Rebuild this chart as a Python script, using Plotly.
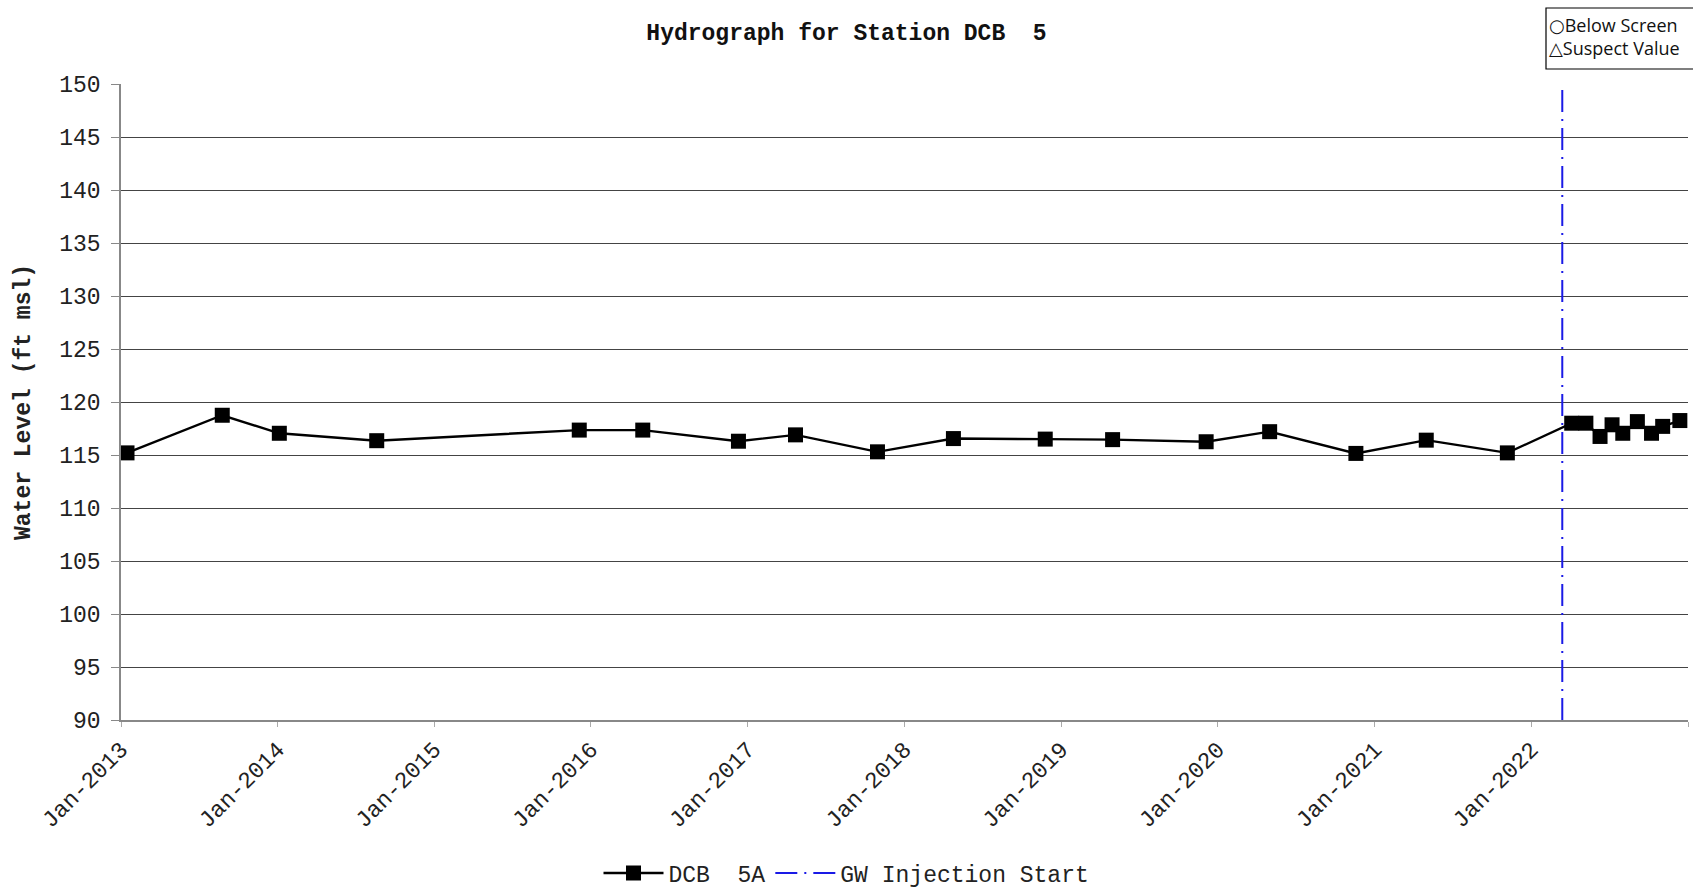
import plotly.graph_objects as go

# ---- data ----
dates = [
    "2013-01-15", "2013-08-25", "2014-01-05", "2014-08-20", "2015-12-05",
    "2016-05-01", "2016-12-10", "2017-04-22", "2017-10-30", "2018-04-25",
    "2018-11-25", "2019-05-01", "2019-12-05", "2020-05-01", "2020-11-18",
    "2021-05-01", "2021-11-06", "2022-04-05", "2022-05-08", "2022-06-10",
    "2022-07-08", "2022-08-02", "2022-09-05", "2022-10-08", "2022-11-03",
    "2022-12-13",
]
levels = [
    115.2, 118.75, 117.05, 116.35, 117.35,
    117.35, 116.3, 116.9, 115.3, 116.55,
    116.5, 116.45, 116.25, 117.2, 115.15,
    116.4, 115.2, 118.0, 118.0, 116.75,
    117.85, 117.05, 118.15, 117.05, 117.7,
    118.25,
]
series_name = "DCB  5A"
injection_name = "GW Injection Start"
injection_date = "2022-03-14"
y_range = [90, 150]
x_range = ["2013-01-01", "2023-01-01"]
title_text = "Hydrograph for Station DCB  5"
y_title = "Water Level (ft msl)"
box_symbols = ["\u25CB", "\u25B3"]
box_labels = ["Below Screen", "Suspect Value"]

MONO = "Liberation Mono, Courier New, monospace"
SANS = "Open Sans, Liberation Sans, Arial, sans-serif"

fig = go.Figure()
fig.add_trace(go.Scatter(
    x=dates, y=levels, mode="lines+markers", name=series_name,
    line=dict(color="black", width=2.4),
    marker=dict(symbol="square", size=15, color="black"),
))
fig.add_trace(go.Scatter(
    x=[injection_date, injection_date], y=y_range, mode="lines",
    name=injection_name,
    line=dict(color="#1a1ae6", width=2, dash="22px,7px,2px,7px"),
))

W, H = 1693, 891
L, R, T, B = 121, 5, 84, 171
pw = W - L - R
ph = H - T - B

def px_x(p):
    return (p - L) / pw

def px_y(p):
    return 1 + (T - p) / ph

box_text = "<br>".join(
    "<span style='font-family:DejaVu Sans'>" + s + "</span>" + lab
    for s, lab in zip(box_symbols, box_labels)
)

annots = [
    dict(text="<b>" + y_title + "</b>", xref="paper", yref="paper",
         x=px_x(24), y=0.5, xanchor="center", yanchor="middle",
         textangle=-90, showarrow=False,
         font=dict(family=MONO, size=23, color="#222")),
    dict(text=box_text, xref="paper", yref="paper",
         x=px_x(1548), y=px_y(36), xanchor="left", yanchor="middle",
         align="left", showarrow=False, borderpad=0,
         font=dict(family=SANS, size=18, color="#111")),
]

fig.update_layout(
    width=W, height=H,
    margin=dict(l=L, r=R, t=T, b=B),
    paper_bgcolor="white", plot_bgcolor="white",
    font=dict(family=MONO, size=23, color="#222"),
    title=dict(text="<b>" + title_text + "</b>", x=0.5, xref="container",
               xanchor="center", y=1 - 32 / H, yref="container",
               yanchor="middle", font=dict(family=MONO, size=23, color="#111")),
    showlegend=True,
    legend=dict(orientation="h", x=0.5, xref="container", xanchor="center",
                y=1 - 873 / H, yref="container", yanchor="middle",
                font=dict(family=MONO, size=23, color="#222"),
                bgcolor="rgba(0,0,0,0)", itemwidth=60, tracegroupgap=0),
    xaxis=dict(
        type="date", range=x_range, dtick="M12", tick0="2013-01-01",
        tickformat="%b-%Y", tickangle=-45,
        showgrid=False, zeroline=False,
        showline=True, linecolor="#888", linewidth=1.5,
        ticks="outside", ticklen=5, tickcolor="#aaa",
        tickfont=dict(family=MONO, size=23, color="#222"),
    ),
    yaxis=dict(
        range=y_range, dtick=5, tick0=90,
        showgrid=True, gridcolor="#444", gridwidth=1.2,
        zeroline=False,
        showline=True, linecolor="#888", linewidth=1.5,
        ticks="outside", ticklen=8, tickcolor="#888",
        ticklabelstandoff=6,
        tickfont=dict(family=MONO, size=23, color="#222"),
    ),
    shapes=[dict(type="rect", xref="paper", yref="paper",
                 x0=px_x(1546), x1=px_x(1760), y0=px_y(69), y1=px_y(8),
                 line=dict(color="black", width=1.2), fillcolor="white")],
    annotations=annots,
)

fig.write_html("out.html")
